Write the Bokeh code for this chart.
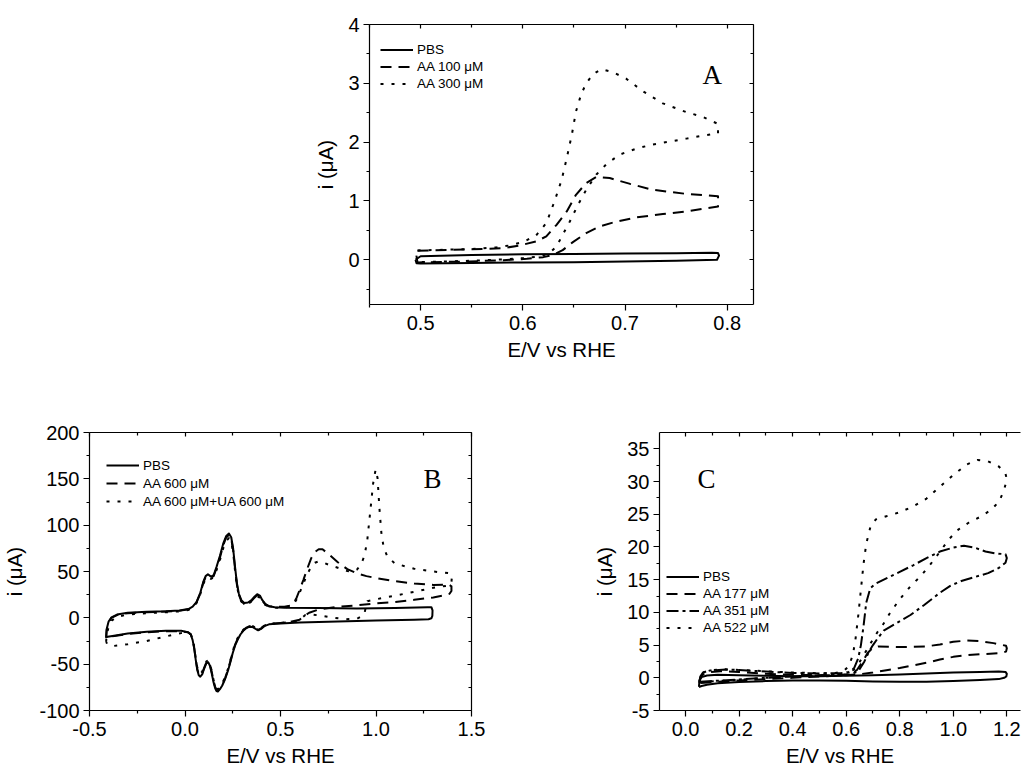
from bokeh.plotting import figure
from bokeh.models import Range1d, LinearAxis, FixedTicker, Legend, LegendItem, Label, Spacer, PrintfTickFormatter
from bokeh.layouts import column, row
from bokeh.embed import file_html
from bokeh.resources import INLINE

# ---------------- data: panel A ----------------
A_PBS_X = [0.495, 0.500, 0.55, 0.60, 0.65, 0.70, 0.75, 0.785, 0.791, 0.792, 0.790, 0.75, 0.70, 0.65, 0.60, 0.55, 0.50, 0.496, 0.495]
A_PBS_Y = [0.0, 0.06, 0.08, 0.095, 0.10, 0.105, 0.11, 0.12, 0.115, 0.07, 0.0, -0.015, -0.03, -0.04, -0.045, -0.055, -0.065, -0.06, 0.0]
A_AA100_X = [0.497, 0.548, 0.581, 0.597, 0.613, 0.623, 0.633, 0.643, 0.652, 0.662, 0.672, 0.685, 0.705, 0.727, 0.760, 0.791,
             0.791, 0.776, 0.760, 0.737, 0.711, 0.692, 0.675, 0.662, 0.649, 0.639, 0.630, 0.620, 0.604, 0.581, 0.548, 0.497, 0.496, 0.497]
A_AA100_Y = [0.153, 0.176, 0.198, 0.244, 0.312, 0.397, 0.595, 0.822, 1.105, 1.304, 1.41, 1.39, 1.29, 1.19, 1.12, 1.08,
             0.907, 0.867, 0.822, 0.777, 0.72, 0.652, 0.567, 0.454, 0.30, 0.164, 0.085, 0.045, 0.017, -0.006, -0.028, -0.045, 0.05, 0.153]
A_AA300_X = [0.497, 0.548, 0.574, 0.587, 0.600, 0.613, 0.623, 0.631, 0.638, 0.643, 0.648, 0.652, 0.657, 0.662, 0.669, 0.677,
             0.688, 0.701, 0.718, 0.737, 0.760, 0.776, 0.791,
             0.791, 0.776, 0.760, 0.744, 0.727, 0.711, 0.695, 0.682, 0.672, 0.662, 0.654, 0.646, 0.639, 0.633, 0.626, 0.617,
             0.600, 0.581, 0.548, 0.497, 0.496, 0.497]
A_AA300_Y = [0.159, 0.181, 0.21, 0.244, 0.30, 0.414, 0.624, 0.992, 1.36, 1.73, 2.13, 2.52, 2.81, 3.00, 3.16, 3.24,
             3.19, 3.08, 2.86, 2.66, 2.51, 2.43, 2.31,
             2.15, 2.11, 2.06, 2.01, 1.96, 1.89, 1.79, 1.63, 1.45, 1.19, 0.935, 0.652, 0.425, 0.227, 0.113, 0.057,
             0.028, 0.006, -0.017, -0.04, 0.06, 0.159]

# ---------------- data: panel B ----------------
B_H_AN_X = [-0.413, -0.410, -0.400, -0.385, -0.356, -0.30, -0.20, -0.10, -0.03, 0.018, 0.040, 0.060, 0.080, 0.096, 0.108,
            0.120, 0.136, 0.150, 0.165, 0.183, 0.200, 0.215, 0.230, 0.242, 0.252, 0.262, 0.272, 0.282, 0.295, 0.310,
            0.330, 0.350, 0.365, 0.378, 0.392, 0.405, 0.420, 0.440, 0.470, 0.52]
B_PBS_AN_Y = [-21, -12, -4, 0.5, 3.5, 5.5, 6.5, 7.0, 7.8, 9.5, 12, 17, 27, 39, 45,
              47, 44.5, 46, 55, 67, 80, 88, 91, 87, 75, 55, 37, 26, 19, 16,
              16.5, 19.5, 23, 25.5, 24, 19, 15, 12.5, 11.5, 11]
B_H_CA_X = [0.50, 0.44, 0.415, 0.398, 0.383, 0.370, 0.355, 0.338, 0.322, 0.305, 0.290, 0.275, 0.262, 0.250, 0.240, 0.225,
            0.210, 0.195, 0.183, 0.172, 0.165, 0.158, 0.150, 0.140, 0.131, 0.122, 0.112, 0.100, 0.090, 0.080, 0.072,
            0.064, 0.056, 0.048, 0.040, 0.030, 0.015, -0.02, -0.10, -0.20, -0.30, -0.38, -0.405, -0.413]
B_PBS_CA_Y = [-6, -7, -9, -12, -13.5, -12, -10, -9.5, -11, -14, -18, -24, -30, -38, -46, -57,
              -66, -73, -77, -79.5, -79, -76, -70, -60, -52, -48, -49, -55, -61, -63.5, -62,
              -56, -45, -33, -24, -18, -15.5, -14, -14, -15, -17, -19.5, -20.5, -21]
B_PBS_RIGHT_X = [0.70, 0.90, 1.10, 1.27, 1.290, 1.296, 1.295, 1.290, 1.275, 1.20, 1.00, 0.80, 0.60]
B_PBS_RIGHT_Y = [10.5, 10.2, 10.5, 11.5, 11.5, 8, 2, -0.5, -1.5, -2, -3, -4, -5]

B_AA_AN_Y = [-22, -13, -5, 0, 3, 5, 6, 6.8, 7.5, 9.2, 11.5, 16.5, 26, 38, 44,
             45.5, 43.5, 45, 53.5, 65, 78, 86.5, 89.5, 85.5, 73, 53, 35.5, 25, 18, 15,
             15.5, 18.5, 22, 24.5, 23, 18.5, 14.5, 12.5, 12, 12]
B_AA_RIGHT_X = [0.55, 0.57, 0.585, 0.60, 0.62, 0.64, 0.66, 0.68, 0.70, 0.72, 0.75, 0.80, 0.85, 0.90, 0.95, 1.00, 1.10,
                1.20, 1.30, 1.38, 1.395, 1.395, 1.385, 1.35, 1.30, 1.20, 1.10, 1.00, 0.90, 0.80, 0.70, 0.65, 0.62, 0.60, 0.55]
B_AA_RIGHT_Y = [13, 16, 22, 30, 41, 53, 64, 71, 74, 74, 69, 60, 52.5, 48, 45, 43, 39.5,
                37, 35.5, 36, 34, 29, 26, 24, 22, 19.5, 17, 15.5, 13.5, 12, 9, 5.5, 1.5, -2, -4.5]
B_AA_CA_Y = [-5.5, -6.5, -8.5, -11.5, -13, -11.5, -9.5, -9, -10.5, -13.5, -17, -23, -29, -37, -45, -56,
             -65, -72, -76, -78, -77.5, -74.5, -68.5, -58.5, -51, -47, -48, -54, -60, -62.5, -61,
             -55, -44, -32, -23, -17.5, -15.5, -14.5, -14.5, -15.5, -17.5, -20, -21, -22]

B_UA_AN_Y = [-26, -18, -10, -3, 1, 3.5, 5, 6, 7, 8.5, 11, 16, 25.5, 36.5, 42,
             44, 42, 43.5, 51.5, 62.5, 75, 83, 86, 82.5, 70.5, 51, 34, 24, 17.5, 14.5,
             15, 18, 21, 23, 22, 17.5, 14, 12, 11, 11]
B_UA_RIGHT_X = [0.55, 0.57, 0.585, 0.60, 0.62, 0.64, 0.66, 0.68, 0.70, 0.72, 0.75, 0.80, 0.85, 0.88, 0.90, 0.92, 0.94,
                0.955, 0.97, 0.985, 0.998, 1.008, 1.018, 1.028, 1.04, 1.06, 1.10, 1.20, 1.30, 1.39, 1.397, 1.395,
                1.385, 1.30, 1.20, 1.10, 1.00, 0.955, 0.945, 0.938, 0.90, 0.84, 0.78, 0.72, 0.67, 0.63, 0.60, 0.57]
B_UA_RIGHT_Y = [12.5, 15, 20, 27, 37, 47, 55, 59.5, 61, 60, 57.5, 54, 50.5, 50, 52, 57, 67,
                85, 115, 145, 160, 151, 118, 92, 76, 66, 58.5, 53, 50, 48, 44, 38,
                35, 32.5, 28, 24, 20, 18, 10, 3, -1, -1.5, 0, 2, 3.5, 3, -2, -4.5]
B_UA_CA_Y = [-5.5, -6.5, -8.5, -11, -12.5, -11, -9, -8.5, -10, -13, -16.5, -22, -28, -36, -44, -55,
             -64, -70.5, -74.5, -77, -76.5, -73.5, -67.5, -57.5, -50, -46, -47, -52.5, -58, -60.5, -59,
             -53, -43, -31, -23, -18, -16, -16.5, -20, -25, -28.5, -30.5, -29, -26]

# ---------------- data: panel C ----------------
C_PBS_X = [0.050, 0.052, 0.060, 0.080, 0.12, 0.20, 0.30, 0.40, 0.50, 0.60, 0.70, 0.80, 0.90, 1.00, 1.10, 1.17, 1.195, 1.20,
           1.198, 1.19, 1.17, 1.10, 1.00, 0.90, 0.80, 0.70, 0.60, 0.50, 0.40, 0.30, 0.20, 0.12, 0.08, 0.06, 0.050]
C_PBS_Y = [-1.4, -0.4, 0.1, 0.35, 0.45, 0.4, 0.3, 0.25, 0.25, 0.3, 0.4, 0.5, 0.65, 0.8, 0.9, 0.95, 0.9, 0.6,
           0.2, 0.0, -0.2, -0.35, -0.5, -0.6, -0.62, -0.55, -0.45, -0.4, -0.4, -0.5, -0.65, -0.85, -1.05, -1.25, -1.4]
C_AA177_X = [0.052, 0.055, 0.065, 0.09, 0.13, 0.20, 0.30, 0.40, 0.50, 0.58, 0.62, 0.64, 0.66, 0.68, 0.70, 0.72, 0.80,
             0.90, 0.95, 1.00, 1.05, 1.10, 1.15, 1.197, 1.200, 1.197,
             1.17, 1.10, 1.05, 1.00, 0.95, 0.90, 0.85, 0.80, 0.75, 0.70, 0.65, 0.60, 0.50, 0.40, 0.30, 0.20, 0.12, 0.07, 0.052]
C_AA177_Y = [-0.8, 0.0, 0.5, 0.85, 1.0, 0.9, 0.6, 0.45, 0.4, 0.4, 0.6, 1.2, 2.4, 3.8, 4.6, 4.8, 4.7,
             4.8, 5.1, 5.5, 5.7, 5.6, 5.3, 4.9, 4.5, 4.0,
             3.75, 3.6, 3.45, 3.2, 2.8, 2.3, 1.9, 1.5, 1.15, 0.8, 0.55, 0.4, 0.2, 0.0, -0.2, -0.4, -0.6, -0.75, -0.8]
C_AA351_X = [0.052, 0.055, 0.065, 0.09, 0.15, 0.20, 0.30, 0.40, 0.50, 0.58, 0.61, 0.63, 0.645, 0.655, 0.665, 0.675, 0.69,
             0.71, 0.75, 0.80, 0.85, 0.90, 0.95, 1.00, 1.04, 1.08, 1.12, 1.16, 1.195, 1.20,
             1.195, 1.17, 1.13, 1.08, 1.03, 0.99, 0.95, 0.89, 0.84, 0.79, 0.74, 0.717, 0.70, 0.685, 0.668, 0.645, 0.62,
             0.60, 0.50, 0.40, 0.30, 0.20, 0.12, 0.07, 0.052]
C_AA351_Y = [-0.6, 0.2, 0.8, 1.1, 1.25, 1.2, 0.95, 0.75, 0.65, 0.7, 0.9, 1.5, 3, 5, 8, 11.5, 13.7,
             14.4, 15.2, 16.2, 17.2, 18.3, 19.3, 19.9, 20.2, 19.9, 19.3, 19.0, 18.9, 18.3,
             17.6, 16.8, 16.0, 15.4, 14.8, 14.1, 13.0, 11.1, 9.6, 8.4, 7.2, 6.0, 5.0, 4.0, 2.5, 1.0, 0.6,
             0.45, 0.35, 0.2, 0.0, -0.25, -0.45, -0.55, -0.6]
C_AA522_X = [0.052, 0.055, 0.065, 0.09, 0.15, 0.20, 0.30, 0.40, 0.50, 0.56, 0.59, 0.61, 0.625, 0.635, 0.645, 0.655, 0.665,
             0.675, 0.69, 0.71, 0.75, 0.80, 0.85, 0.90, 0.95, 1.00, 1.05, 1.09, 1.13, 1.17, 1.195, 1.20,
             1.19, 1.172, 1.142, 1.105, 1.057, 1.02, 0.984, 0.947, 0.91, 0.875, 0.84, 0.80, 0.765, 0.74, 0.717, 0.69,
             0.67, 0.65, 0.63, 0.60, 0.50, 0.40, 0.30, 0.20, 0.12, 0.07, 0.052]
C_AA522_Y = [-0.7, 0.2, 0.8, 1.15, 1.3, 1.2, 1.0, 0.8, 0.7, 0.75, 1.0, 1.8, 3.5, 6, 9.5, 13.5, 17.5,
             20.5, 23, 24.2, 24.7, 25.3, 26.2, 27.4, 29.2, 31, 32.6, 33.3, 33.1, 32.3, 31.2, 30.3,
             28.8, 27, 25.7, 24.7, 23.7, 22.7, 21.2, 19.1, 17.1, 15.4, 14.0, 12.0, 10.0, 8.3, 7.0, 5.2,
             3.8, 2.4, 1.3, 0.5, 0.35, 0.2, 0.0, -0.3, -0.5, -0.6, -0.7]

# ---------------- axes ----------------
A_XTICKS = [0.5, 0.6, 0.7, 0.8]; A_XMINOR = [0.45, 0.55, 0.65, 0.75]
A_YTICKS = [0, 1, 2, 3, 4]; A_YMINOR = [-0.5, 0.5, 1.5, 2.5, 3.5]
B_XTICKS = [-0.5, 0.0, 0.5, 1.0, 1.5]; B_XMINOR = [-0.25, 0.25, 0.75, 1.25]
B_YTICKS = [-100, -50, 0, 50, 100, 150, 200]; B_YMINOR = [-75, -25, 25, 75, 125, 175]
C_XTICKS = [0.0, 0.2, 0.4, 0.6, 0.8, 1.0, 1.2]; C_XMINOR = [-0.1, 0.1, 0.3, 0.5, 0.7, 0.9, 1.1]
C_YTICKS = [-5, 0, 5, 10, 15, 20, 25, 30, 35]; C_YMINOR = [-2.5, 2.5, 7.5, 12.5, 17.5, 22.5, 27.5, 32.5]

SANS = "Liberation Sans"
SERIF = "Liberation Serif"
TICK_PX = "20px"
LAB_PX = "20.5px"
LW = 2.0
DASH = "11 7"
DOT = "3 8"
DASHDOT = "12 4 3 4"


def style_axis(ax, ticks, minor, fmt, labelled=True, inside=False, label=None):
    ax.ticker = FixedTicker(ticks=ticks, minor_ticks=minor)
    ax.axis_line_color = "black"
    ax.axis_line_width = 1.2
    ax.major_tick_line_color = "black"
    ax.minor_tick_line_color = "black"
    ax.major_tick_line_width = 1.2
    ax.minor_tick_line_width = 1.2
    if inside:
        ax.major_tick_in = 4; ax.major_tick_out = 0
        ax.minor_tick_in = 3; ax.minor_tick_out = 0
    else:
        ax.major_tick_in = 0; ax.major_tick_out = 6
        ax.minor_tick_in = 0; ax.minor_tick_out = 3
    if labelled:
        ax.formatter = PrintfTickFormatter(format=fmt)
        ax.major_label_text_font = SANS
        ax.major_label_text_font_size = TICK_PX
        ax.major_label_text_color = "black"
    else:
        ax.major_label_overrides = {t: "" for t in ticks}
        ax.major_label_text_font_size = "1px"
        ax.major_label_standoff = 0
    if label is not None:
        ax.axis_label = label
        ax.axis_label_text_font = SANS
        ax.axis_label_text_font_size = LAB_PX
        ax.axis_label_text_font_style = "normal"
        ax.axis_label_text_color = "black"


def make_fig(width, height, borders, xr, yr, xt, xm, yt, ym, xfmt, yfmt, right=True):
    l, r, t, b = borders
    p = figure(width=width, height=height, x_range=Range1d(*xr), y_range=Range1d(*yr),
               output_backend="svg", toolbar_location=None,
               min_border_left=l, min_border_right=r, min_border_top=t, min_border_bottom=b)
    p.xgrid.visible = False
    p.ygrid.visible = False
    p.outline_line_color = None
    p.background_fill_color = "white"
    p.border_fill_color = "white"
    style_axis(p.xaxis[0], xt, xm, xfmt, label="E/V vs RHE")
    style_axis(p.yaxis[0], yt, ym, yfmt, label="i (\u03bcA)")
    top = LinearAxis()
    style_axis(top, xt, xm, xfmt, labelled=False, inside=True)
    p.add_layout(top, "above")
    if right:
        rax = LinearAxis()
        style_axis(rax, yt, ym, yfmt, labelled=False, inside=True)
        p.add_layout(rax, "right")
    return p


def add_legend(p, items, loc, row_h):
    lg = Legend(items=[LegendItem(label=t, renderers=[r]) for t, r in items], location=loc,
                border_line_color=None, background_fill_alpha=0, label_text_font=SANS,
                label_text_font_size="13.5px", label_text_color="black", glyph_width=33, glyph_height=row_h,
                label_height=row_h, label_standoff=4, spacing=0, padding=0, margin=0)
    p.add_layout(lg)


def curve(p, xs, ys, dash):
    return p.line(xs, ys, line_color="black", line_width=LW, line_dash=dash, line_join="round")


def letter(p, text, x, y):
    p.add_layout(Label(x=x, y=y, x_units="screen", y_units="screen", text=text, text_font=SERIF,
                       text_font_size="27px", text_color="black", text_baseline="alphabetic"))


# ---- panel A ----  frame: x 369-753, y 24-304
pa = make_fig(464, 370, (70, 10, 24, 66), (0.45, 0.8257), (-0.76, 4.0),
              A_XTICKS, A_XMINOR, A_YTICKS, A_YMINOR, "%.1f", "%d")
pa.xaxis[0].major_label_standoff = 2
pa.xaxis[0].axis_label_standoff = 8
pa.yaxis[0].major_label_standoff = 4
pa.yaxis[0].axis_label_standoff = 8
ra1 = curve(pa, A_PBS_X, A_PBS_Y, "solid")
ra2 = curve(pa, A_AA100_X, A_AA100_Y, DASH)
ra3 = curve(pa, A_AA300_X, A_AA300_Y, DOT)
add_legend(pa, [("PBS", ra1), ("AA 100 \u03bcM", ra2), ("AA 300 \u03bcM", ra3)], (11, 212), 17)
letter(pa, "A", 333, 230)

# ---- panel B ----  frame: x 87-471, y 432-712
pb = make_fig(590, 399, (87, 119, 62, 57), (-0.5, 1.5), (-100, 200),
              B_XTICKS, B_XMINOR, B_YTICKS, B_YMINOR, "%.1f", "%d")
pb.xaxis[0].major_label_standoff = 1
pb.xaxis[0].axis_label_standoff = 4
pb.yaxis[0].major_label_standoff = 4
pb.yaxis[0].axis_label_standoff = 10
rb1 = curve(pb, B_H_AN_X + B_PBS_RIGHT_X + B_H_CA_X, B_PBS_AN_Y + B_PBS_RIGHT_Y + B_PBS_CA_Y, "solid")
rb2 = curve(pb, B_H_AN_X + B_AA_RIGHT_X + B_H_CA_X, B_AA_AN_Y + B_AA_RIGHT_Y + B_AA_CA_Y, DASH)
rb3 = curve(pb, B_H_AN_X + B_UA_RIGHT_X + B_H_CA_X, B_UA_AN_Y + B_UA_RIGHT_Y + B_UA_CA_Y, DOT)
add_legend(pb, [("PBS", rb1), ("AA 600 \u03bcM", rb2), ("AA 600 \u03bcM+UA 600 \u03bcM", rb3)], (17, 200), 18)
letter(pb, "B", 334, 232)

# ---- panel C ----  frame: x 650-1020, y 432-712
pc = make_fig(432, 399, (60, 2, 62, 57), (-0.0973, 1.251), (-5, 37.5),
              C_XTICKS, C_XMINOR, C_YTICKS, C_YMINOR, "%.1f", "%d", right=False)
pc.xaxis[0].major_label_standoff = 1
pc.xaxis[0].axis_label_standoff = 4
pc.yaxis[0].major_label_standoff = 4
pc.yaxis[0].axis_label_standoff = 8
rc1 = curve(pc, C_PBS_X, C_PBS_Y, "solid")
rc2 = curve(pc, C_AA177_X, C_AA177_Y, DASH)
rc3 = curve(pc, C_AA351_X, C_AA351_Y, DASHDOT)
rc4 = curve(pc, C_AA522_X, C_AA522_Y, DOT)
add_legend(pc, [("PBS", rc1), ("AA 177 \u03bcM", rc2), ("AA 351 \u03bcM", rc3), ("AA 522 \u03bcM", rc4)], (7, 74), 17)
letter(pc, "C", 38, 232)

layout = column(row(Spacer(width=299, height=370), pa), row(pb, pc), spacing=0)
open("out.html", "w").write(file_html(layout, INLINE))
